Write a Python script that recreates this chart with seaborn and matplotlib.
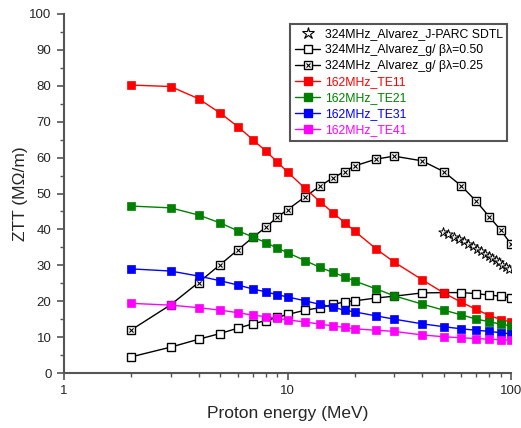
import numpy as np
import pandas as pd
import matplotlib
matplotlib.use("Agg")
import matplotlib.pyplot as plt
import seaborn as sns
from matplotlib.lines import Line2D

energy = [2, 3, 4, 5, 6, 7, 8, 9, 10, 12, 14, 16, 18, 20, 25, 30, 40, 50, 60, 70, 80, 90, 100]
te11 = [80.2, 79.8, 76.4, 72.4, 68.6, 65.0, 61.8, 58.8, 56.0, 51.4, 47.7, 44.6, 41.9, 39.5, 34.5, 30.9, 26.0, 22.3, 19.7, 17.7, 16.0, 14.9, 14.2]
te21 = [46.5, 46.0, 44.0, 41.8, 39.6, 37.9, 36.3, 34.8, 33.5, 31.3, 29.4, 28.0, 26.8, 25.6, 23.4, 21.5, 19.2, 17.5, 16.2, 15.0, 14.3, 13.6, 13.1]
te31 = [29.0, 28.4, 27.0, 25.7, 24.5, 23.4, 22.6, 21.8, 21.2, 20.1, 19.1, 18.3, 17.5, 17.0, 15.9, 15.0, 13.7, 12.9, 12.3, 11.9, 11.6, 11.2, 10.9]
te41 = [19.4, 18.9, 18.2, 17.5, 16.8, 16.1, 15.7, 15.2, 14.8, 14.2, 13.6, 13.1, 12.7, 12.3, 11.9, 11.6, 10.6, 10.1, 9.8, 9.6, 9.4, 9.3, 9.1]
alv_050 = [4.5, 7.2, 9.4, 11.0, 12.5, 13.7, 14.6, 15.5, 16.3, 17.5, 18.2, 19.1, 19.8, 20.1, 20.9, 21.4, 22.3, 22.4, 22.4, 22.1, 21.7, 21.4, 20.9]
alv_025 = [12.0, 19.0, 25.2, 30.2, 34.3, 37.8, 40.6, 43.4, 45.5, 49.1, 52.1, 54.4, 56.1, 57.7, 59.6, 60.4, 59.1, 56.1, 52.1, 47.8, 43.5, 39.8, 35.9]
sdtl_energy = [49.5, 52.5, 55.5, 58.5, 61.5, 64.5, 67.5, 70.5, 73.5, 76.5, 79.5, 82.5, 85.5, 88.5, 91.5, 94.5, 97.5]
sdtl_ztt = [39.2, 38.6, 38.0, 37.3, 36.7, 36.0, 35.3, 34.6, 33.9, 33.2, 32.6, 32.0, 31.4, 30.8, 30.2, 29.6, 29.0]

labels = ["324MHz_Alvarez_J-PARC SDTL", "324MHz_Alvarez_g/ βλ=0.50", "324MHz_Alvarez_g/ βλ=0.25",
          "162MHz_TE11", "162MHz_TE21", "162MHz_TE31", "162MHz_TE41"]
colors = ["#FF0000", "#008000", "#0000FF", "#FF00FF"]

sns.set_style("ticks")
plt.rcParams['font.family'] = ['Liberation Sans', 'DejaVu Sans']

fig = plt.figure(figsize=(5.21, 4.28), dpi=100)
ax = fig.add_axes([64/521, 1-373/428, 447/521, 359/428])

MS = 5.6
# SDTL stars
sns.scatterplot(x=sdtl_energy, y=sdtl_ztt, ax=ax, marker='*', s=50, facecolor='white',
                edgecolor='black', linewidth=0.7, zorder=3)
# open squares
sns.lineplot(x=energy, y=alv_050, ax=ax, color='black', lw=1.0, marker='s', markersize=MS,
             markerfacecolor='white', markeredgecolor='black', markeredgewidth=1.0, zorder=4)
# crossed squares
sns.lineplot(x=energy, y=alv_025, ax=ax, color='black', lw=1.0, marker='s', markersize=MS,
             markerfacecolor='white', markeredgecolor='black', markeredgewidth=1.0, zorder=5)
sns.scatterplot(x=energy, y=alv_025, ax=ax, marker='x', s=9, color='black', linewidth=0.8, zorder=5.5)
for i, (ys, c) in enumerate(zip([te11, te21, te31, te41], colors)):
    sns.lineplot(x=energy, y=ys, ax=ax, color=c, lw=1.0, marker='s', markersize=MS,
                 markerfacecolor=c, markeredgecolor=c, markeredgewidth=0.5, zorder=6 + i)

ax.set_xscale('log')
ax.set_xlim(1, 100)
ax.set_ylim(0, 100)
ax.set_yticks(np.arange(0, 101, 10))
ax.set_yticks(np.arange(5, 100, 10), minor=True)
ax.set_xticks([1, 10, 100])
ax.set_xticklabels(["1", "10", "100"])
ax.tick_params(axis='both', which='major', direction='out', length=5, width=1.2, color='#555555',
               labelsize=9.5, pad=4)
ax.tick_params(axis='both', which='minor', direction='out', length=3, width=1.0, color='#555555')
for s in ['left', 'bottom']:
    ax.spines[s].set_color('#555555')
    ax.spines[s].set_linewidth(1.5)
for s in ['top', 'right']:
    ax.spines[s].set_visible(False)
ax.set_xlabel("Proton energy (MeV)", fontsize=12.5, labelpad=6)
ax.set_ylabel("ZTT (MΩ/m)", fontsize=12.5, labelpad=1)

h_star = Line2D([], [], ls='none', marker='*', markersize=9, markerfacecolor='white',
                markeredgecolor='black', markeredgewidth=0.8)
h_open = Line2D([], [], color='black', lw=1.0, marker='s', markersize=MS,
                markerfacecolor='white', markeredgecolor='black')
h_cross_sq = Line2D([], [], color='black', lw=1.0, marker='s', markersize=MS,
                    markerfacecolor='white', markeredgecolor='black')
h_cross_x = Line2D([], [], ls='none', marker='x', markersize=3, color='black', markeredgewidth=0.8)
handles = [h_star, h_open, (h_cross_sq, h_cross_x)]
for c in colors:
    handles.append(Line2D([], [], color=c, lw=1.0, marker='s', markersize=MS,
                          markerfacecolor=c, markeredgecolor=c))
leg = ax.legend(handles, labels, loc='upper right', bbox_to_anchor=(0.991, 0.972),
                borderaxespad=0, fontsize=8.8, frameon=True, fancybox=False, framealpha=1,
                edgecolor='#555555', labelspacing=0.33, handlelength=2.1, handletextpad=0.35,
                borderpad=0.35)
leg.get_frame().set_linewidth(1.5)
for t, col in zip(leg.get_texts(), ['black'] * 3 + colors):
    t.set_color(col)

fig.savefig("out.png", dpi=100)
